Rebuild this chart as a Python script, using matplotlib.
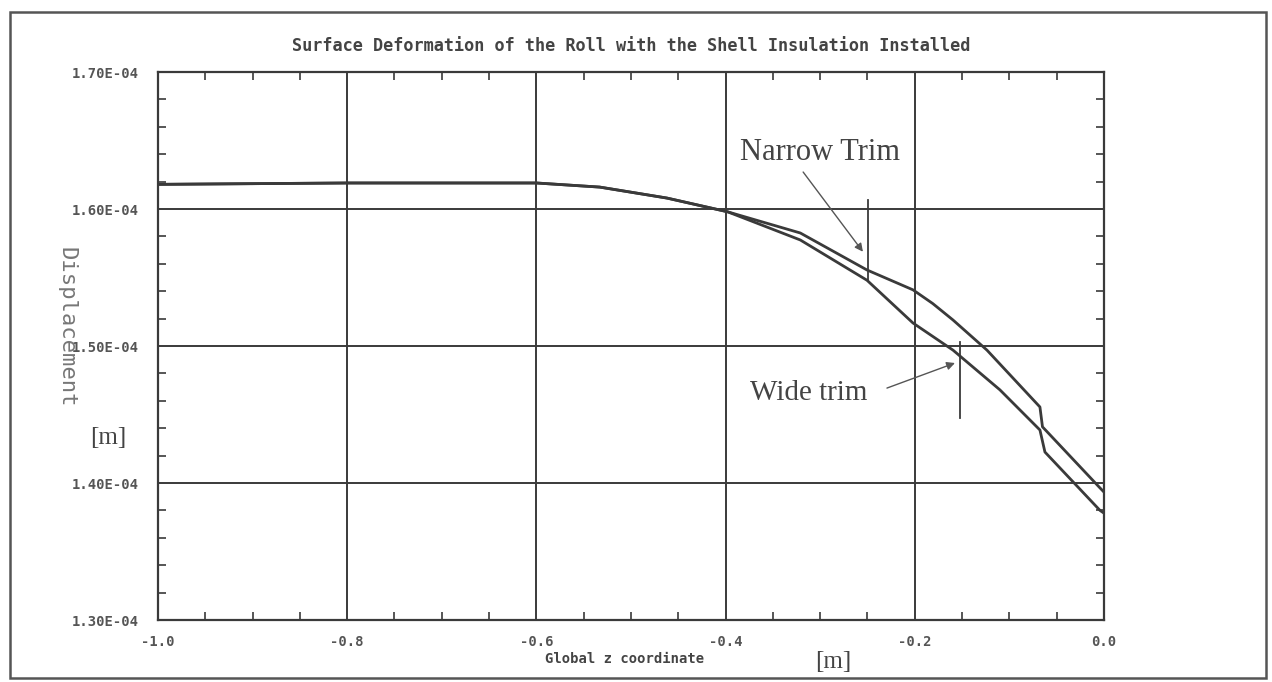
import matplotlib
matplotlib.use("Agg")
import matplotlib.pyplot as plt
from matplotlib.ticker import MultipleLocator
from matplotlib.patches import Rectangle

# Data (x in m, displacement in m)
common_x = [-1.0, -0.9, -0.8, -0.7, -0.6, -0.533, -0.462, -0.398]
common_y = [1.618e-4, 1.6185e-4, 1.619e-4, 1.619e-4, 1.619e-4, 1.616e-4, 1.608e-4, 1.598e-4]

narrow_x = [-0.321, -0.2505, -0.2019, -0.181, -0.1596, -0.1237, -0.0677, -0.0650, -0.0042, 0.0]
narrow_y = [1.5825e-4, 1.5555e-4, 1.541e-4, 1.531e-4, 1.519e-4, 1.497e-4, 1.4555e-4, 1.441e-4, 1.3964e-4, 1.3934e-4]

wide_x = [-0.321, -0.2505, -0.2019, -0.1596, -0.110, -0.0677, -0.0624, -0.0042, 0.0]
wide_y = [1.5774e-4, 1.548e-4, 1.5168e-4, 1.497e-4, 1.468e-4, 1.4387e-4, 1.4226e-4, 1.380e-4, 1.378e-4]

x_ticks = [-1.0, -0.8, -0.6, -0.4, -0.2, 0.0]
x_ticklabels = ["-1.0", "-0.8", "-0.6", "-0.4", "-0.2", "0.0"]
y_ticks = [1.3e-4, 1.4e-4, 1.5e-4, 1.6e-4, 1.7e-4]
y_ticklabels = ["1.30E-04", "1.40E-04", "1.50E-04", "1.60E-04", "1.70E-04"]

title = "Surface Deformation of the Roll with the Shell Insulation Installed"
xlabel = "Global z coordinate"
ylabel = "Displacement"

ink = "#3a3a3a"
mono = "DejaVu Sans Mono"
serif = "Liberation Serif"

fig = plt.figure(figsize=(12.72, 6.82), dpi=100)
ax = fig.add_axes([0.1242, 0.0909, 0.7437, 0.8035])

nx = common_x + narrow_x
ny = common_y + narrow_y
wx = common_x + wide_x
wy = common_y + wide_y
ax.plot(nx, ny, color=ink, lw=2.0)
ax.plot(wx, wy, color=ink, lw=2.0)

ax.set_xlim(-1.0, 0.0)
ax.set_ylim(1.3e-4, 1.7e-4)
ax.set_xticks(x_ticks)
ax.set_xticklabels(x_ticklabels, fontfamily=mono, fontweight="bold", fontsize=10, color="#555555")
ax.set_yticks(y_ticks)
ax.set_yticklabels(y_ticklabels, fontfamily=mono, fontweight="bold", fontsize=10, color="#555555")
ax.xaxis.set_minor_locator(MultipleLocator(0.05))
ax.yaxis.set_minor_locator(MultipleLocator(0.02e-4))
ax.tick_params(which="both", direction="in", top=True, right=True, color=ink)
ax.tick_params(which="major", length=0, pad=14)
ax.tick_params(which="minor", length=6, width=1.2)
ax.tick_params(axis="x", which="major", pad=11)
ax.grid(True, which="major", color=ink, lw=1.4)
for s in ax.spines.values():
    s.set_color(ink)
    s.set_linewidth(1.6)

fig.text(0.496, 0.933, title, ha="center", va="center", fontfamily=mono,
         fontweight="bold", fontsize=12.2, color="#444444")
fig.text(0.491, 0.033, xlabel, ha="center", va="center", fontfamily=mono,
         fontweight="bold", fontsize=10, color="#444444")
fig.text(0.655, 0.030, "[m]", ha="center", va="center", fontfamily=serif,
         fontsize=18, color="#444444")
fig.text(0.052, 0.520, ylabel, ha="center", va="center", rotation=270,
         fontfamily=mono, fontsize=16, color="#777777")
fig.text(0.085, 0.358, "[m]", ha="center", va="center", fontfamily=serif,
         fontsize=18, color="#444444")

# annotations
ax.text(-0.300, 1.6416e-4, "Narrow Trim", ha="center", va="center",
        fontfamily=serif, fontsize=22, color="#444444")
ax.annotate("", xy=(-0.2548, 1.5688e-4), xytext=(-0.318, 1.627e-4),
            arrowprops=dict(arrowstyle="-|>", color="#555555", lw=1.0,
                            shrinkA=0, shrinkB=0, mutation_scale=12))
ax.plot([-0.249, -0.249], [1.548e-4, 1.6066e-4], color=ink, lw=1.3)

ax.text(-0.312, 1.4657e-4, "Wide trim", ha="center", va="center",
        fontfamily=serif, fontsize=21, color="#444444")
ax.annotate("", xy=(-0.1575, 1.4876e-4), xytext=(-0.2294, 1.4693e-4),
            arrowprops=dict(arrowstyle="-|>", color="#555555", lw=1.0,
                            shrinkA=0, shrinkB=0, mutation_scale=12))
ax.plot([-0.152, -0.152], [1.4474e-4, 1.503e-4], color=ink, lw=1.3)

fig.patches.append(Rectangle((10 / 1272, 4 / 682), 1256 / 1272, 666 / 682,
                             transform=fig.transFigure, fill=False,
                             edgecolor="#555555", lw=1.8))

fig.savefig("out.png", dpi=100)
